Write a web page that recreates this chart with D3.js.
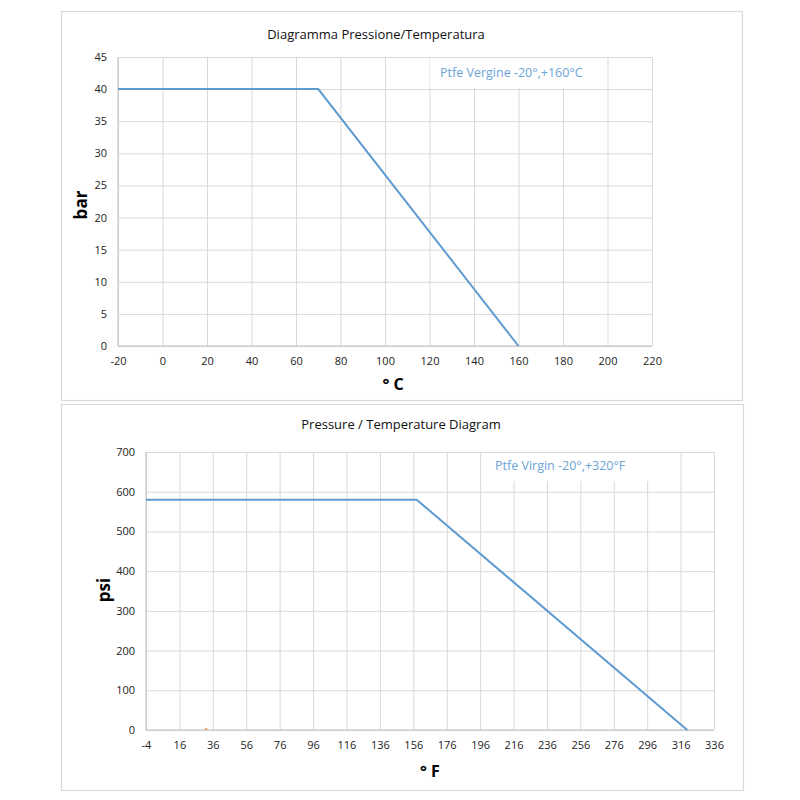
<!DOCTYPE html>
<html>
<head>
<meta charset="utf-8">
<script src="https://cdn.jsdelivr.net/npm/d3@7"></script>
<style>
  body { margin: 0; background: #fff; }
  text { font-family: "Open Sans", "Noto Sans", sans-serif; }
</style>
</head>
<body>
<svg id="chart" width="800" height="800"></svg>
<script>
// curve points, metric
const tempC = [-20, 70, 160];
const pressBar = [40, 40, 0];
const ticksC = [-20, 0, 20, 40, 60, 80, 100, 120, 140, 160, 180, 200, 220];
const ticksBar = [0, 5, 10, 15, 20, 25, 30, 35, 40, 45];

// curve points, imperial
const tempF = [-4, 158, 320];
const pressPsi = [580, 580, 0];
const ticksF = [-4, 16, 36, 56, 76, 96, 116, 136, 156, 176, 196, 216, 236, 256, 276, 296, 316, 336];
const ticksPsi = [0, 100, 200, 300, 400, 500, 600, 700];
// stray orange marker near the axis
const strayF = [32];
const strayPsi = [0];

const svg = d3.select("#chart");
const gridColor = "#d9d9d9";
const lineColor = "#5f9bd0";
const fmt = d => String(d);   // plain hyphen for negatives, like the original

const panels = [
  {
    box: [61, 11, 742, 400],
    plot: {left: 118, right: 652, top: 57, bottom: 346},
    xs: tempC, ys: pressBar, xt: ticksC, yt: ticksBar,
    title: "Diagramma Pressione/Temperatura", titleX: 376, titleY: 39,
    yLab: "bar", yLabX: 87, yLabY: 205,
    xLab: "° C", xLabX: 393, xLabY: 390,
    note: "Ptfe Vergine -20°,+160°C", noteBox: [430, 58, 600, 88], noteX: 440, noteY: 77
  },
  {
    box: [61, 404, 743, 790],
    plot: {left: 146, right: 714, top: 452, bottom: 730},
    xs: tempF, ys: pressPsi, xt: ticksF, yt: ticksPsi,
    title: "Pressure / Temperature Diagram", titleX: 401, titleY: 429,
    yLab: "psi", yLabX: 110, yLabY: 590,
    xLab: "° F", xLabX: 430, xLabY: 777,
    note: "Ptfe Virgin -20°,+320°F", noteBox: [485, 453, 672, 481], noteX: 495, noteY: 470,
    stray: true
  }
];

panels.forEach(p => {
  const g = svg.append("g");
  const [bx0, by0, bx1, by1] = p.box;

  g.append("rect")
      .attr("x", bx0 + 0.5).attr("y", by0 + 0.5)
      .attr("width", bx1 - bx0).attr("height", by1 - by0)
      .attr("fill", "#fff")
      .attr("stroke", gridColor)
      .attr("stroke-width", 1.2);

  const x = d3.scaleLinear()
      .domain(d3.extent(p.xt))
      .range([p.plot.left, p.plot.right]);
  const y = d3.scaleLinear()
      .domain(d3.extent(p.yt))
      .range([p.plot.bottom, p.plot.top]);

  // vertical grid
  g.append("g")
      .attr("transform", `translate(0,${p.plot.bottom})`)
      .call(d3.axisBottom(x).tickValues(p.xt).tickSize(-(p.plot.bottom - p.plot.top)).tickFormat(fmt).tickPadding(11))
      .call(a => a.select(".domain").remove())
      .call(a => a.selectAll("line").attr("stroke", gridColor))
      .call(a => a.selectAll("text").attr("fill", "#222").style("font-size", "11px"));

  // horizontal grid
  g.append("g")
      .attr("transform", `translate(${p.plot.left},0)`)
      .call(d3.axisLeft(y).tickValues(p.yt).tickSize(-(p.plot.right - p.plot.left)).tickFormat(fmt).tickPadding(11))
      .call(a => a.select(".domain").remove())
      .call(a => a.selectAll("line").attr("stroke", gridColor))
      .call(a => a.selectAll("text").attr("fill", "#222").style("font-size", "11px"));

  // axis lines at left and bottom
  g.append("line")
      .attr("x1", p.plot.left).attr("x2", p.plot.right)
      .attr("y1", y(0)).attr("y2", y(0))
      .attr("stroke", "#bfbfbf");
  g.append("line")
      .attr("x1", p.plot.left).attr("x2", p.plot.left)
      .attr("y1", p.plot.top).attr("y2", p.plot.bottom)
      .attr("stroke", "#bfbfbf");

  // white box behind the series note
  const [nx0, ny0, nx1, ny1] = p.noteBox;
  g.append("rect")
      .attr("x", nx0).attr("y", ny0)
      .attr("width", nx1 - nx0).attr("height", ny1 - ny0)
      .attr("fill", "#fff");

  const pts = p.xs.map((d, i) => [d, p.ys[i]]);
  g.append("path")
      .datum(pts)
      .attr("fill", "none")
      .attr("stroke", lineColor)
      .attr("stroke-width", 2)
      .attr("d", d3.line().x(d => x(d[0])).y(d => y(d[1])));

  if (p.stray) {
    g.selectAll(".stray")
        .data(strayF.map((d, i) => [d, strayPsi[i]]))
      .enter().append("circle")
        .attr("cx", d => x(d[0])).attr("cy", d => y(d[1]) - 1)
        .attr("r", 1.2)
        .attr("fill", "#f0a060");
  }

  g.append("text")
      .attr("x", p.noteX).attr("y", p.noteY)
      .attr("fill", "#6aa3d6")
      .style("font-size", "12.5px")
      .text(p.note);

  g.append("text")
      .attr("x", p.titleX).attr("y", p.titleY)
      .attr("text-anchor", "middle")
      .attr("fill", "#111")
      .style("font-size", "13px")
      .text(p.title);

  g.append("text")
      .attr("transform", `translate(${p.yLabX},${p.yLabY}) rotate(-90)`)
      .attr("text-anchor", "middle")
      .attr("fill", "#000")
      .style("font-size", "17px")
      .style("font-weight", "bold")
      .text(p.yLab);

  g.append("text")
      .attr("x", p.xLabX).attr("y", p.xLabY)
      .attr("text-anchor", "middle")
      .attr("fill", "#000")
      .style("font-size", "16px")
      .style("font-weight", "bold")
      .text(p.xLab);
});
</script>
</body>
</html>
